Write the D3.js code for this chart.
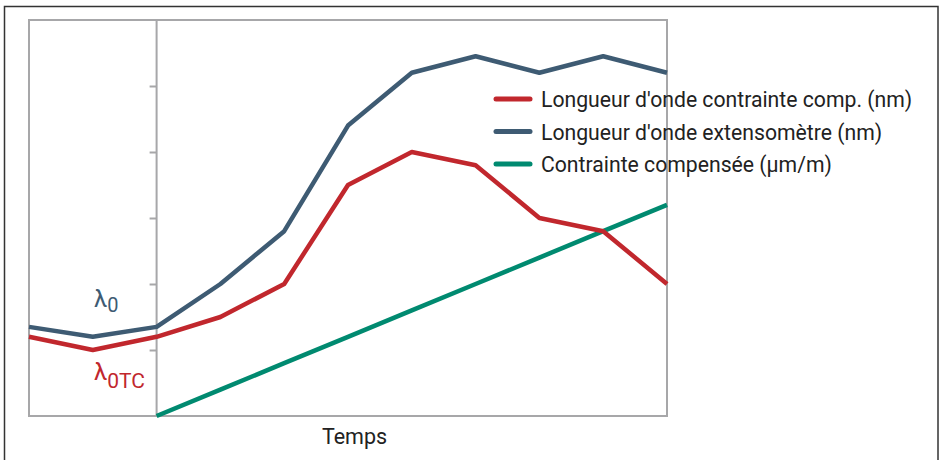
<!DOCTYPE html>
<html>
<head>
<meta charset="utf-8">
<script src="https://cdn.jsdelivr.net/npm/d3@7"></script>
<style>
  html, body { margin: 0; padding: 0; background: #fff; }
  svg { display: block; font-family: Roboto, "Noto Sans", sans-serif; }
</style>
</head>
<body>
<svg id="chart" width="942" height="460"></svg>
<script>
// ---- data ----
const times = [-2, -1, 0, 1, 2, 3, 4, 5, 6, 7, 8];
const waveCompValues = [1.2, 1.0, 1.2, 1.5, 2.0, 3.5, 4.0, 3.8, 3.0, 2.8, 2.0];
const waveExtValues = [1.35, 1.2, 1.35, 2.0, 2.8, 4.4, 5.2, 5.45, 5.2, 5.45, 5.2];
const strainValues = [null, null, 0, 0.4, 0.8, 1.2, 1.6, 2.0, 2.4, 2.8, 3.2];
const yTicks = [1, 2, 3, 4, 5];
const seriesNames = [
  "Longueur d'onde contrainte comp. (nm)",
  "Longueur d'onde extensomètre (nm)",
  "Contrainte compensée (µm/m)"
];
const xLabel = "Temps";

// ---- styles ----
const colors = ["#c1272d", "#3e5b73", "#008a70"];
const gray = "#a7a7a9";
const textColor = "#222";

const svg = d3.select("#chart");

// outer frame
svg.append("rect")
  .attr("x", 4.5).attr("y", 6.5)
  .attr("width", 933.5).attr("height", 470)
  .attr("fill", "none").attr("stroke", "#333").attr("stroke-width", 1.5);

const plot = { left: 29, right: 667, top: 20, bottom: 416 };
const x = d3.scaleLinear().domain([-2, 8]).range([plot.left, plot.right]);
const y = d3.scaleLinear().domain([0, 6]).range([plot.bottom, plot.top]);

// plot box
svg.append("rect")
  .attr("x", plot.left).attr("y", plot.top)
  .attr("width", plot.right - plot.left).attr("height", plot.bottom - plot.top)
  .attr("fill", "none").attr("stroke", gray).attr("stroke-width", 2);

// y axis at time 0
const yAxis = d3.axisLeft(y).tickValues(yTicks).tickSize(7).tickFormat("");
const gy = svg.append("g").attr("transform", `translate(${x(0)},0)`).call(yAxis);
gy.select(".domain").remove();
gy.selectAll(".tick line").attr("stroke", gray).attr("stroke-width", 2);
svg.append("line")
  .attr("x1", x(0)).attr("x2", x(0))
  .attr("y1", y(6)).attr("y2", y(0))
  .attr("stroke", gray).attr("stroke-width", 2);

// lines
const lineGen = d3.line()
  .defined(d => d[1] !== null)
  .x(d => x(d[0])).y(d => y(d[1]));

const series = [waveCompValues, waveExtValues, strainValues];
[2, 0, 1].forEach(i => {
  svg.append("path")
    .datum(times.map((t, j) => [t, series[i][j]]))
    .attr("d", lineGen)
    .attr("fill", "none")
    .attr("stroke", colors[i])
    .attr("stroke-width", 4.5)
    .attr("stroke-linejoin", "round")
    .attr("stroke-linecap", "butt");
});

// legend
const legend = svg.append("g").attr("transform", "translate(494,99)");
seriesNames.forEach((name, i) => {
  const g = legend.append("g").attr("transform", `translate(0,${i * 32.5})`);
  g.append("line")
    .attr("x1", 2).attr("x2", 36).attr("y1", 0).attr("y2", 0)
    .attr("stroke", colors[i]).attr("stroke-width", 5).attr("stroke-linecap", "round");
  g.append("text")
    .attr("x", 47).attr("y", 8)
    .attr("fill", textColor)
    .style("font-size", "21.2px")
    .text(name);
});

// lambda labels
const l0 = svg.append("text").attr("x", 94).attr("y", 307)
  .attr("fill", colors[1]).style("font-size", "24px");
l0.append("tspan").text("λ");
l0.append("tspan").attr("dy", 5).style("font-size", "20px").text("0");

const l0tc = svg.append("text").attr("x", 94).attr("y", 380)
  .attr("fill", colors[0]).style("font-size", "24px");
l0tc.append("tspan").text("λ");
l0tc.append("tspan").attr("dy", 8).style("font-size", "21px").text("0TC");

// x label
svg.append("text")
  .attr("x", 354.5).attr("y", 444)
  .attr("text-anchor", "middle")
  .attr("fill", textColor)
  .style("font-size", "21.5px")
  .text(xLabel);
</script>
</body>
</html>
